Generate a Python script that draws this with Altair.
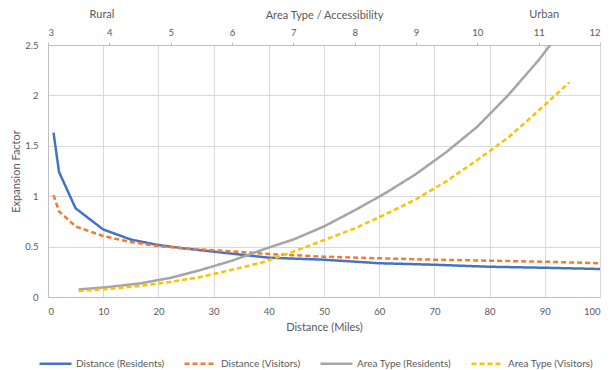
import altair as alt
import pandas as pd

# Distance-based expansion factors (bottom axis, miles)
dist_miles = [1, 2, 5, 10, 15, 20, 25, 30, 40, 50, 60, 70, 80, 90, 100]
dist_residents = [1.63, 1.24, 0.88, 0.67, 0.57, 0.515, 0.48, 0.45, 0.39, 0.37, 0.335, 0.32, 0.30, 0.29, 0.278]
dist_visitors = [1.01, 0.85, 0.70, 0.605, 0.545, 0.505, 0.48, 0.465, 0.427, 0.40, 0.384, 0.37, 0.36, 0.35, 0.335]

# Area-type-based expansion factors (top axis)
area_type = [3.5, 4, 4.5, 5, 5.5, 6, 6.5, 7, 7.5, 8, 8.5, 9, 9.5, 10, 10.5, 11, 11.5]
area_residents = [0.075, 0.10, 0.135, 0.19, 0.27, 0.36, 0.47, 0.57, 0.70, 0.86, 1.03, 1.22, 1.44, 1.69, 2.00, 2.35, 2.75]
area_visitors = [0.06, 0.08, 0.11, 0.15, 0.20, 0.27, 0.345, 0.45, 0.565, 0.68, 0.82, 0.97, 1.15, 1.36, 1.58, 1.85, 2.13]

series_names = ["Distance (Residents)", "Distance (Visitors)", "Area Type (Residents)", "Area Type (Visitors)"]
series_colors = ["#4472C4", "#ED7D31", "#A5A5A5", "#FFC000"]
series_dash = [[1, 0], [5, 3], [1, 0], [5, 3]]

top_labels = ["Rural", "Urban"]
top_label_pos = [3.88, 11.09]

FONT = "Lato"
TXT = "#595959"
GRID = "#D9D9D9"
AXIS_LINE = "#BFBFBF"
TICK_FS = 9.5
TITLE_FS = 11
LEGEND_FS = 10
TOP_TITLE_Y = -30

dist_df = pd.concat([
    pd.DataFrame({"x": dist_miles, "value": dist_residents, "series": series_names[0]}),
    pd.DataFrame({"x": dist_miles, "value": dist_visitors, "series": series_names[1]}),
])
area_df = pd.concat([
    pd.DataFrame({"x": area_type, "value": area_residents, "series": series_names[2]}),
    pd.DataFrame({"x": area_type, "value": area_visitors, "series": series_names[3]}),
])
label_df = pd.DataFrame({"x": top_label_pos, "label": top_labels})

color_scale = alt.Scale(domain=series_names, range=series_colors)
dash_scale = alt.Scale(domain=series_names, range=series_dash)

legend = alt.Legend(
    title=None, orient="none", direction="horizontal", columns=4,
    legendX=-10, legendY=301, symbolType="stroke", symbolSize=1024,
    symbolStrokeWidth=2.5, labelFont=FONT, labelFontSize=LEGEND_FS, labelColor=TXT,
    labelOffset=3, columnPadding=14,
)

y_enc = alt.Y(
    "value:Q",
    scale=alt.Scale(domain=[0, 2.5], nice=False),
    axis=alt.Axis(
        title="Expansion Factor", values=[0, 0.5, 1, 1.5, 2, 2.5], format="~g",
        grid=True, gridColor=GRID, domain=True, domainColor=AXIS_LINE, ticks=False,
        labelPadding=10, titlePadding=3, labelFont=FONT, titleFont=FONT,
        labelFontSize=TICK_FS, titleFontSize=TITLE_FS, titleFontWeight="normal",
        labelColor=TXT, titleColor=TXT,
    ),
)

dist_layer = alt.Chart(dist_df).mark_line(strokeWidth=2.5, clip=True).encode(
    x=alt.X(
        "x:Q",
        scale=alt.Scale(domain=[0, 100], nice=False),
        axis=alt.Axis(
            orient="bottom", title="Distance (Miles)", values=list(range(0, 101, 10)),
            grid=True, gridColor=GRID, domain=True, domainColor=AXIS_LINE, ticks=False,
            labelPadding=9, titlePadding=6, labelFont=FONT, titleFont=FONT,
            labelFontSize=TICK_FS, titleFontSize=TITLE_FS, titleFontWeight="normal",
            labelColor=TXT, titleColor=TXT,
        ),
    ),
    y=y_enc,
    color=alt.Color("series:N", scale=color_scale, legend=legend),
    strokeDash=alt.StrokeDash("series:N", scale=dash_scale, legend=legend),
)

top_axis = alt.Axis(
    orient="top", title="Area Type / Accessibility", values=list(range(3, 13)),
    grid=False, domain=True, domainColor=AXIS_LINE, ticks=True, tickColor=AXIS_LINE,
    tickSize=3, labelPadding=5, titleY=TOP_TITLE_Y, titleBaseline="middle",
    labelFont=FONT, titleFont=FONT,
    labelFontSize=TICK_FS, titleFontSize=TITLE_FS, titleFontWeight="normal",
    labelColor=TXT, titleColor=TXT,
)

area_layer = alt.Chart(area_df).mark_line(strokeWidth=2.5, clip=True).encode(
    x=alt.X("x:Q", scale=alt.Scale(domain=[3, 12], nice=False), axis=top_axis),
    y=y_enc,
    color=alt.Color("series:N", scale=color_scale, legend=legend),
    strokeDash=alt.StrokeDash("series:N", scale=dash_scale, legend=legend),
)

label_layer = alt.Chart(label_df).mark_text(
    font=FONT, fontSize=TITLE_FS, color=TXT, baseline="middle", align="center"
).encode(
    x=alt.X("x:Q", scale=alt.Scale(domain=[3, 12], nice=False), axis=None),
    y=alt.value(TOP_TITLE_Y),
    text="label:N",
)

chart = alt.layer(
    dist_layer, area_layer, label_layer
).resolve_scale(x="independent").properties(
    width=552, height=252,
    padding={"left": 40, "top": 37, "right": 8, "bottom": 73},
    autosize=alt.AutoSizeParams(type="none"),
    background="white",
).configure_view(stroke=None)

chart.save("out.html", embed_options={"renderer": "svg", "actions": False})
